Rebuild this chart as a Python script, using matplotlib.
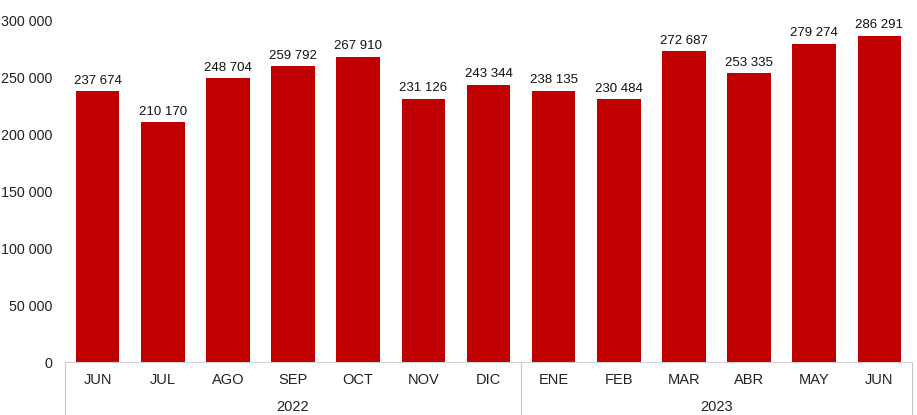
import matplotlib.pyplot as plt
from matplotlib.lines import Line2D

months = ['JUN', 'JUL', 'AGO', 'SEP', 'OCT', 'NOV', 'DIC',
          'ENE', 'FEB', 'MAR', 'ABR', 'MAY', 'JUN']
values = [237674, 210170, 248704, 259792, 267910, 231126, 243344,
          238135, 230484, 272687, 253335, 279274, 286291]
years = ['2022', '2023']
year_counts = [7, 6]

plt.rcParams['font.family'] = ['Liberation Sans', 'DejaVu Sans']

fig = plt.figure(figsize=(9.17, 4.15), dpi=100)
ax = fig.add_axes([0.0709, 0.1277, 0.9236, 0.8241])

x = list(range(len(months)))
bars = ax.bar(x, values, width=0.67, color='#C00000', zorder=2)

def fmt(v):
    return '{:,}'.format(v).replace(',', ' ')

ax.bar_label(bars, labels=[fmt(v) for v in values], padding=3,
             fontsize=9.5, color='#111111')

ax.set_xlim(-0.5, len(months) - 0.5)
ax.set_ylim(0, 300000)
ax.set_yticks(range(0, 300001, 50000))
ax.set_yticklabels([fmt(v) for v in range(0, 300001, 50000)],
                   fontsize=10.3, color='#222222')
ax.set_xticks(x)
ax.set_xticklabels(months, fontsize=10.5, color='#222222')
ax.tick_params(axis='both', length=0)
ax.tick_params(axis='x', pad=8)
ax.tick_params(axis='y', pad=9)

for s in ['top', 'right', 'left']:
    ax.spines[s].set_visible(False)
ax.spines['bottom'].set_color('#d0d0d0')

# two-level axis: year labels and separators
trans = ax.get_xaxis_transform()
start = -0.5
bounds = [start]
for name, n in zip(years, year_counts):
    mid = start + n / 2
    ax.text(mid, -0.132, name, transform=trans, ha='center', va='center',
            fontsize=10.5, color='#222222', clip_on=False)
    start += n
    bounds.append(start)
for b in bounds:
    ax.add_line(Line2D([b, b], [0, -0.2], transform=trans, color='#c8c8c8',
                       lw=0.8, clip_on=False))

fig.savefig('out.png', dpi=100)
